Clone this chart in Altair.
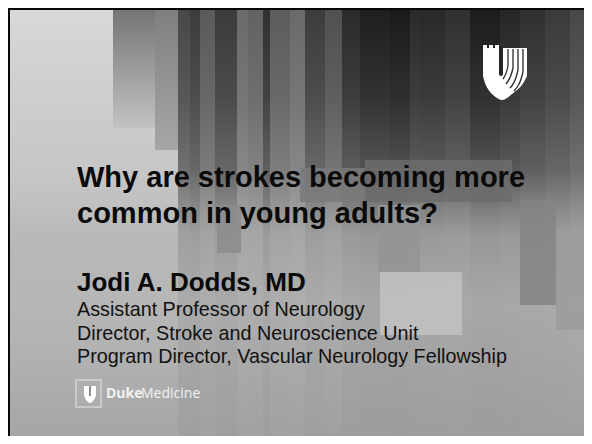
import altair as alt
import pandas as pd

# ---------------- data (page pixel coordinates of the slide) ----------------
# background vertical bars: left edge, right edge, top gray level
bar_x0 = [178, 190, 200, 215, 237, 248, 263, 270, 290, 305, 325, 342, 360, 390, 410, 420, 445, 470, 500, 520, 545, 570]
bar_x1 = [190, 200, 215, 237, 248, 263, 270, 290, 305, 325, 342, 360, 390, 410, 420, 445, 470, 500, 520, 545, 570, 592]
bar_gray = [72, 60, 90, 58, 106, 98, 48, 92, 106, 60, 80, 42, 30, 26, 42, 40, 48, 28, 38, 48, 58, 72]

# short fading bars at the left of the texture
fade_x0 = [113, 155]
fade_x1 = [155, 178]
fade_y1 = [128, 150]

# flat patches drawn over the faded texture
patch_x0 = [300, 365, 378, 380, 520, 556, 217]
patch_x1 = [365, 512, 420, 462, 556, 592, 241]
patch_y0 = [168, 160, 205, 272, 200, 230, 205]
patch_y1 = [202, 202, 272, 335, 305, 330, 253]
patch_gray = [122, 108, 148, 194, 132, 156, 140]

# Duke shield (top right)
shield_x = [483, 485, 488, 492, 497, 502, 507, 512, 517, 522, 525, 527]
shield_bot = [76, 83, 89, 94, 98, 100, 98, 94, 90, 85, 80, 76]
merlon_x0 = [483, 489, 495]
merlon_x1 = [487, 493, 499]
sep_id = [0, 0, 0, 1, 1, 1, 2, 2, 2, 3, 3, 3]
sep_ord = [0, 1, 2] * 4
sep_x = [508, 508, 503, 513, 513, 506, 518, 518, 510, 523, 523, 514]
sep_y = [49, 66, 79, 49, 68, 84, 49, 70, 88, 49, 72, 91]

# small Duke mark (bottom left)
mini_x = [84, 85, 87, 90, 93, 95, 96]
mini_bot = [395, 398, 401, 403, 401, 398, 395]

title_lines = ["Why are strokes becoming more", "common in young adults?"]
title_y = [187, 223]
name_text = ["Jodi A. Dodds, MD"]
name_y = [291]
role_lines = ["Assistant Professor of Neurology",
              "Director, Stroke and Neuroscience Unit",
              "Program Director, Vascular Neurology Fellowship"]
role_y = [316, 340, 363]

# ---------------- helpers ----------------
# chart occupies page pixels 8..584 x 8..436 (fits the window with the page margin)
XMAX, YMAX = 584, 436
xs = alt.Scale(domain=[8, XMAX], nice=False, zero=False)
ys = alt.Scale(domain=[YMAX, 8], nice=False, zero=False)


def X(f):
    return alt.X(f, type="quantitative", scale=xs, axis=None)


def Y(f):
    return alt.Y(f, type="quantitative", scale=ys, axis=None)


def hexg(g):
    return "#{0:02x}{0:02x}{0:02x}".format(int(g))


FONT = "Liberation Sans"

# base
base_df = pd.DataFrame({"x": [8], "x2": [XMAX], "y": [8], "y2": [YMAX]})
base = alt.Chart(base_df).mark_rect(
    color=alt.Gradient(
        gradient="linear", x1=0, y1=0, x2=0, y2=1,
        stops=[alt.GradientStop(color="#d8d8d8", offset=0),
               alt.GradientStop(color="#c8c8c8", offset=0.37),
               alt.GradientStop(color="#bcbcbc", offset=0.67),
               alt.GradientStop(color="#a0a0a0", offset=1)])
).encode(x=X("x"), x2="x2", y=Y("y"), y2="y2")

bars_df = pd.DataFrame({"x": bar_x0, "x2": [min(v, XMAX) for v in bar_x1], "y": 8, "y2": YMAX,
                        "c": [hexg(g) for g in bar_gray]})
bars = alt.Chart(bars_df).mark_rect().encode(
    x=X("x"), x2="x2", y=Y("y"), y2="y2", color=alt.Color("c:N", scale=None))

overlay = alt.Chart(base_df).mark_rect(
    color=alt.Gradient(
        gradient="linear", x1=0, y1=0, x2=0, y2=1,
        stops=[alt.GradientStop(color="rgba(200,200,200,0)", offset=0),
               alt.GradientStop(color="rgba(200,200,200,0.12)", offset=0.21),
               alt.GradientStop(color="rgba(196,196,196,0.32)", offset=0.38),
               alt.GradientStop(color="rgba(182,182,182,0.8)", offset=0.53),
               alt.GradientStop(color="rgba(182,182,182,0.9)", offset=0.69),
               alt.GradientStop(color="rgba(176,176,176,0.9)", offset=0.84),
               alt.GradientStop(color="rgba(166,166,166,0.93)", offset=1)])
).encode(x=X("x"), x2="x2", y=Y("y"), y2="y2")

fade_layers = []
fade_cols = [("#747474", "#c2c2c2"), ("#7e7e7e", "#a6a6a6")]
for i in range(len(fade_x0)):
    d = pd.DataFrame({"x": [fade_x0[i]], "x2": [fade_x1[i]], "y": [8], "y2": [fade_y1[i]]})
    fade_layers.append(alt.Chart(d).mark_rect(
        color=alt.Gradient(gradient="linear", x1=0, y1=0, x2=0, y2=1,
                           stops=[alt.GradientStop(color=fade_cols[i][0], offset=0),
                                  alt.GradientStop(color=fade_cols[i][1], offset=1)])
    ).encode(x=X("x"), x2="x2", y=Y("y"), y2="y2"))

patch_df = pd.DataFrame({"x": patch_x0, "x2": [min(v, XMAX) for v in patch_x1], "y": patch_y0,
                         "y2": patch_y1, "c": [hexg(g) for g in patch_gray]})
patches = alt.Chart(patch_df).mark_rect(opacity=0.85).encode(
    x=X("x"), x2="x2", y=Y("y"), y2="y2", color=alt.Color("c:N", scale=None))

# slide border
border_df = pd.DataFrame({"x": [8, 8], "x2": [10, XMAX], "y": [8, 8], "y2": [YMAX, 10],
                          "c": ["#080808", "#080808"]})
border = alt.Chart(border_df).mark_rect().encode(
    x=X("x"), x2="x2", y=Y("y"), y2="y2", color=alt.Color("c:N", scale=None))

# Duke shield
shield_df = pd.DataFrame({"x": shield_x, "top": 48, "bot": shield_bot})
shield = alt.Chart(shield_df).mark_area(color="white", interpolate="monotone", orient="vertical").encode(
    x=X("x"), y=Y("top"), y2="bot")
merl_df = pd.DataFrame({"x": merlon_x0, "x2": merlon_x1, "y": 45, "y2": 49})
merlons = alt.Chart(merl_df).mark_rect(color="white").encode(x=X("x"), x2="x2", y=Y("y"), y2="y2")
slot_df = pd.DataFrame({"x": [499], "x2": [503], "y": [47], "y2": [76]})
slot = alt.Chart(slot_df).mark_rect(color="#262626", cornerRadiusBottomLeft=2,
                                    cornerRadiusBottomRight=2).encode(
    x=X("x"), x2="x2", y=Y("y"), y2="y2")
sep_df = pd.DataFrame({"id": sep_id, "o": sep_ord, "x": sep_x, "y": sep_y})
seps = alt.Chart(sep_df).mark_line(color="#2a2a2a", strokeWidth=1.3, interpolate="monotone").encode(
    x=X("x"), y=Y("y"), detail="id:N", order="o:Q")

# bottom-left Duke mark
box_df = pd.DataFrame({"x": [76], "x2": [101], "y": [380], "y2": [407]})
box = alt.Chart(box_df).mark_rect(fill="#b4b4b4", fillOpacity=0.35, stroke="#d4d4d4",
                                  strokeWidth=1.5).encode(x=X("x"), x2="x2", y=Y("y"), y2="y2")
mini_df = pd.DataFrame({"x": mini_x, "top": 386, "bot": mini_bot})
mini = alt.Chart(mini_df).mark_area(color="white", interpolate="monotone", orient="vertical").encode(
    x=X("x"), y=Y("top"), y2="bot")
mslot_df = pd.DataFrame({"x": [89], "x2": [91], "y": [386], "y2": [396]})
mslot = alt.Chart(mslot_df).mark_rect(color="#8c8c8c").encode(x=X("x"), x2="x2", y=Y("y"), y2="y2")
duke_df = pd.DataFrame({"t": ["Duke"], "x": [106], "y": [398]})
duke = alt.Chart(duke_df).mark_text(align="left", baseline="alphabetic", font="Open Sans",
                                     fontWeight="bold", fontSize=14, color="#f2f2f2").encode(
    x=X("x"), y=Y("y"), text="t:N")
med_df = pd.DataFrame({"t": ["Medicine"], "x": [141], "y": [398]})
med = alt.Chart(med_df).mark_text(align="left", baseline="alphabetic", font="Open Sans",
                                   fontSize=14, color="#f2f2f2").encode(
    x=X("x"), y=Y("y"), text="t:N")

# texts
title_df = pd.DataFrame({"t": title_lines, "x": 77, "y": title_y})
title = alt.Chart(title_df).mark_text(align="left", baseline="alphabetic", font=FONT, fontWeight="bold",
                                       fontSize=29, color="#0a0a0a").encode(x=X("x"), y=Y("y"), text="t:N")
name_df = pd.DataFrame({"t": name_text, "x": 77, "y": name_y})
name = alt.Chart(name_df).mark_text(align="left", baseline="alphabetic", font=FONT, fontWeight="bold",
                                     fontSize=26, color="#0a0a0a").encode(x=X("x"), y=Y("y"), text="t:N")
role_df = pd.DataFrame({"t": role_lines, "x": 77, "y": role_y})
role = alt.Chart(role_df).mark_text(align="left", baseline="alphabetic", font=FONT,
                                     fontSize=19.75, color="#111111").encode(x=X("x"), y=Y("y"), text="t:N")

chart = alt.layer(
    base, bars, overlay, *fade_layers, patches, border,
    shield, merlons, slot, seps,
    box, mini, mslot, duke, med,
    title, name, role
).properties(width=XMAX - 8, height=YMAX - 8, padding=0).configure_view(stroke=None)

chart.save("out.html", embed_options={"renderer": "svg", "actions": False})
